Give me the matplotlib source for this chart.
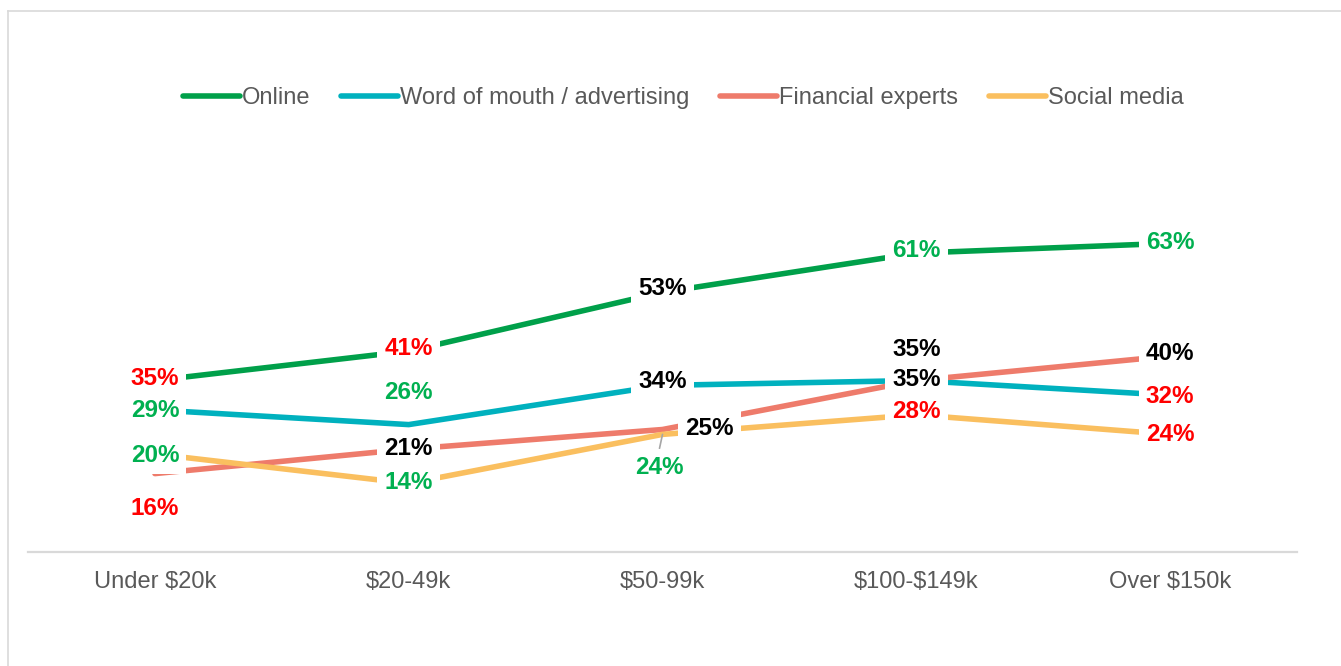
import matplotlib
matplotlib.use("Agg")
import matplotlib.pyplot as plt
from matplotlib.lines import Line2D

plt.rcParams["font.family"] = ["Liberation Sans", "DejaVu Sans"]

categories = ["Under \\$20k", "\\$20-49k", "\\$50-99k", "\\$100-\\$149k", "Over \\$150k"]
series_names = ["Online", "Word of mouth / advertising", "Financial experts", "Social media"]
online = [35, 41, 53, 61, 63]
word_of_mouth = [29, 26, 34, 35, 32]
financial_experts = [16, 21, 25, 35, 40]
social_media = [20, 14, 24, 28, 24]

line_colors = ["#00A04A", "#00B1BE", "#EE7B6B", "#FABF5F"]
RED, GREEN, BLACK = "#FF0000", "#00B050", "#000000"
# colour of each value label, per series
label_colors = [
    [RED, RED, BLACK, GREEN, GREEN],
    [GREEN, GREEN, BLACK, BLACK, RED],
    [RED, BLACK, BLACK, BLACK, BLACK],
    [GREEN, GREEN, GREEN, RED, RED],
]
# label offsets in pixels (dx, dy) from the data point
label_offsets = [
    [(0, 2), (0, 3), (0, 4), (0, 3), (0, 1)],
    [(0, -1), (0, 32), (0, 4), (0, 1), (0, -1)],
    [(0, -35), (0, 1), (47, 1), (0, 31), (0, 2)],
    [(0, -1), (0, 1), (-3, -33), (0, 3), (0, 0)],
]

W, H = 1341, 666
fig = plt.figure(figsize=(W / 100, H / 100), dpi=100)

# outer frame (top and left edges visible)
fig.add_artist(Line2D([8 / W, 1], [1 - 11 / H, 1 - 11 / H], transform=fig.transFigure,
                      color="#D9D9D9", lw=1.2))
fig.add_artist(Line2D([8 / W, 8 / W], [0, 1 - 11 / H], transform=fig.transFigure,
                      color="#D9D9D9", lw=1.2))

ymax = 70
ax = fig.add_axes([28 / W, 1 - 552 / H, 1269 / W, ymax * 4.9 / H])
x = list(range(len(categories)))
all_series = [online, word_of_mouth, financial_experts, social_media]

for vals, name, col in zip(all_series, series_names, line_colors):
    ax.plot(x, vals, color=col, lw=4.0, solid_capstyle="round", label=name, zorder=2)

for s, vals in enumerate(all_series):
    for i, v in enumerate(vals):
        dx, dy = label_offsets[s][i]
        ax.annotate(f"{v}%", (i, v), xytext=(dx, dy), textcoords="offset pixels",
                    ha="center", va="center", fontsize=17.5, fontweight="bold",
                    color=label_colors[s][i], zorder=5,
                    bbox=dict(boxstyle="square,pad=0.3", fc="white", ec="none"))

# leader line for the social media 24% label
ax.annotate("", (2, social_media[2]), xytext=(-3, -14), textcoords="offset pixels",
            arrowprops=dict(arrowstyle="-", color="#A6A6A6", lw=1.2,
                            shrinkA=0, shrinkB=0), zorder=4)

ax.set_xlim(-0.5, len(categories) - 0.5)
ax.set_ylim(0, ymax)
ax.set_xticks(x, categories)
ax.tick_params(axis="x", length=0, pad=14, labelsize=17, labelcolor="#595959")
ax.set_yticks([])
for side in ["top", "right", "left"]:
    ax.spines[side].set_visible(False)
ax.spines["bottom"].set_color("#D9D9D9")
ax.spines["bottom"].set_linewidth(1.6)

fig.legend(loc="center", bbox_to_anchor=(683.5 / W, 1 - 98 / H), ncol=4, frameon=False,
           fontsize=17, labelcolor="#595959", handlelength=2.4, handletextpad=0.1,
           columnspacing=1.3)

fig.savefig("out.png", dpi=100)
